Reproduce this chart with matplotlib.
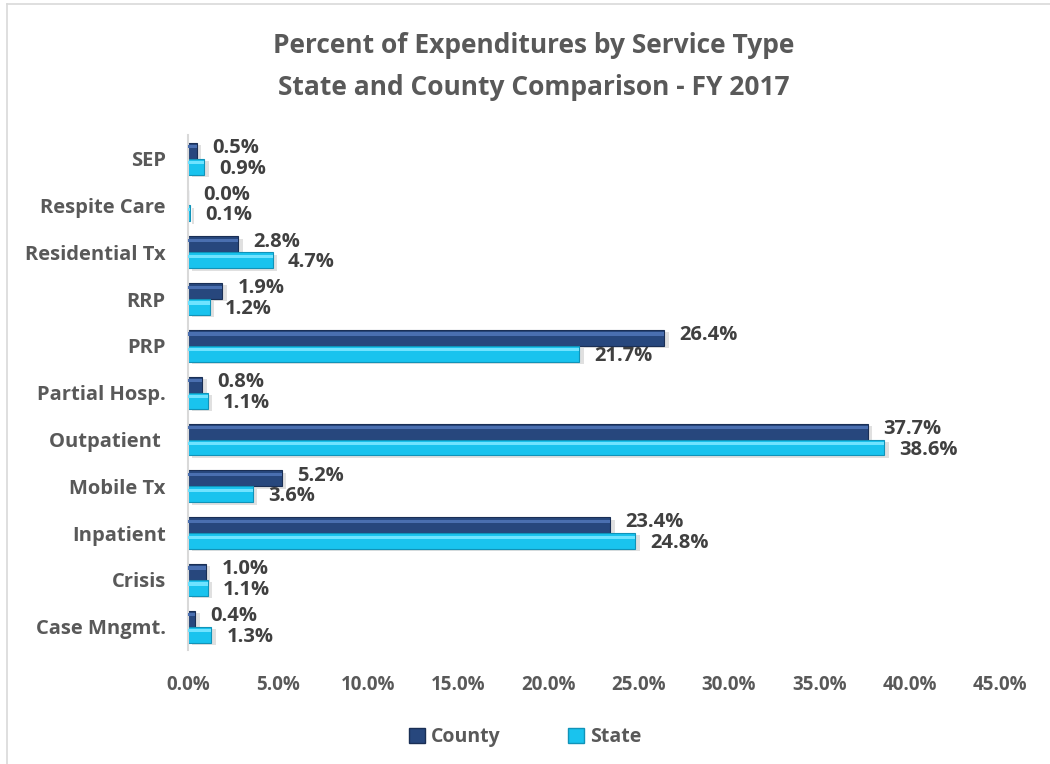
import numpy as np
import matplotlib.pyplot as plt
from matplotlib.lines import Line2D
from matplotlib.patches import Patch
from matplotlib.ticker import FuncFormatter

plt.rcParams['font.family'] = ['Open Sans', 'DejaVu Sans']

# data (bottom to top, as drawn)
categories = ['Case Mngmt.', 'Crisis', 'Inpatient', 'Mobile Tx', 'Outpatient ',
              'Partial Hosp.', 'PRP', 'RRP', 'Residential Tx', 'Respite Care', 'SEP']
county = [0.4, 1.0, 23.4, 5.2, 37.7, 0.8, 26.4, 1.9, 2.8, 0.0, 0.5]
state = [1.3, 1.1, 24.8, 3.6, 38.6, 1.1, 21.7, 1.2, 4.7, 0.1, 0.9]
xticks = [0, 5, 10, 15, 20, 25, 30, 35, 40, 45]

county_col = '#27477D'
county_hi = '#4A6FB0'
state_col = '#19C3EE'
state_hi = '#6FE3FF'
text_col = '#595959'
label_col = '#404040'

fig = plt.figure(figsize=(10.5, 7.64), dpi=100)
ax = fig.add_axes([0.179, 0.149, 0.773, 0.674])

y = np.arange(len(categories))
h = 0.34

# shadows
ax.barh(y + h / 2 - 0.05, county, height=h, left=0.25, color='#000000', alpha=0.12, zorder=1)
ax.barh(y - h / 2 - 0.05, state, height=h, left=0.25, color='#000000', alpha=0.12, zorder=1)

# main bars
ax.barh(y + h / 2, county, height=h, color=county_col, edgecolor='#1A2F55', linewidth=0.8, zorder=2)
ax.barh(y - h / 2, state, height=h, color=state_col, edgecolor='#1193B8', linewidth=0.8, zorder=2)
# bevel highlight
ax.barh(y + h / 2 + h * 0.25, county, height=h * 0.2, color=county_hi, zorder=3)
ax.barh(y - h / 2 + h * 0.25, state, height=h * 0.2, color=state_hi, zorder=3)

for yi, c, s in zip(y, county, state):
    ax.annotate(f'{c:.1f}%', (c, yi + h / 2), xytext=(11, 2), textcoords='offset points',
                ha='left', va='center', fontsize=14.5, fontweight='bold', color=label_col, zorder=5)
    ax.annotate(f'{s:.1f}%', (s, yi - h / 2), xytext=(11, -1.5), textcoords='offset points',
                ha='left', va='center', fontsize=14.5, fontweight='bold', color=label_col, zorder=5)

ax.set_xlim(0, 45)
ax.set_ylim(-0.5, len(categories) - 0.5)
ax.set_xticks(xticks)
ax.xaxis.set_major_formatter(FuncFormatter(lambda v, p: f'{v:.1f}%'))
ax.set_yticks(y)
ax.set_yticklabels(categories)
ax.tick_params(axis='x', length=0, labelsize=13.5, labelcolor=text_col, pad=18)
ax.tick_params(axis='y', length=0, labelsize=14.5, labelcolor=text_col, pad=16)
for lab in ax.get_xticklabels() + ax.get_yticklabels():
    lab.set_fontweight('bold')

for side in ['top', 'right', 'bottom']:
    ax.spines[side].set_visible(False)
ax.spines['left'].set_color('#D9D9D9')
ax.spines['left'].set_linewidth(1.5)

fig.text(0.508, 0.94, 'Percent of Expenditures by Service Type', ha='center', va='center',
         fontsize=19, fontweight='bold', color=text_col)
fig.text(0.508, 0.885, 'State and County Comparison - FY 2017', ha='center', va='center',
         fontsize=19, fontweight='bold', color=text_col)

handles = [Patch(facecolor=county_col, edgecolor='#1A2F55', label='County'),
           Patch(facecolor=state_col, edgecolor='#1193B8', label='State')]
leg = fig.legend(handles=handles, loc='center', bbox_to_anchor=(0.5, 0.035), ncol=2, frameon=False,
                 fontsize=14, handlelength=0.8, handleheight=0.8, handletextpad=0.3, columnspacing=3.5)
for t in leg.get_texts():
    t.set_fontweight('bold')
    t.set_color(text_col)

# chart frame edges
fig.add_artist(Line2D([0.007, 0.007], [0.0, 0.995], color='#D9D9D9', lw=1.2))
fig.add_artist(Line2D([0.007, 1.0], [0.995, 0.995], color='#D9D9D9', lw=1.2))

fig.savefig('out.png', dpi=100)
